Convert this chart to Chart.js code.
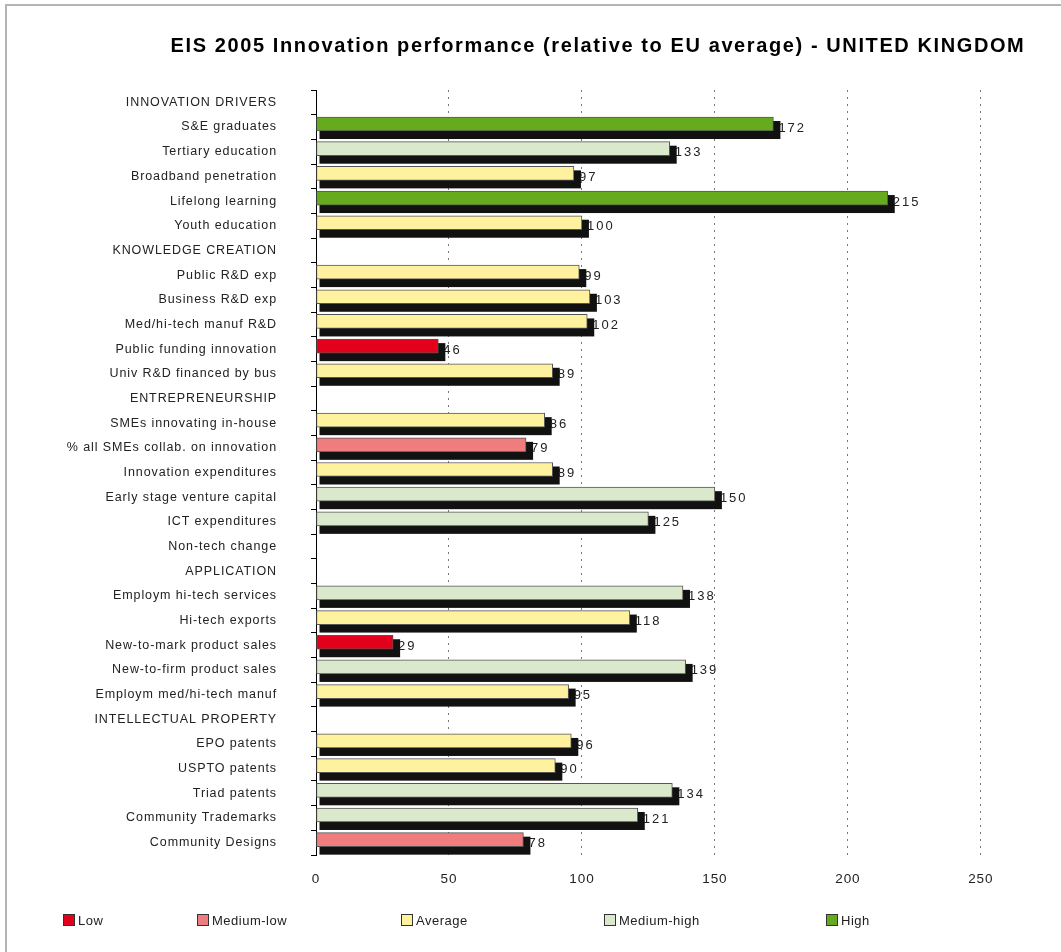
<!DOCTYPE html>
<html>
<head>
<meta charset="utf-8">
<title>EIS 2005 - United Kingdom</title>
<script src="https://cdn.jsdelivr.net/npm/chart.js@4"></script>
<style>
	html, body { margin: 0; padding: 0; background: #fff; }
	#wrap { position: relative; width: 1061px; height: 952px; overflow: hidden; }
	#frame {
		position: absolute; left: 5px; top: 4px; width: 1100px; height: 1000px;
		border-top: 2px solid #b4b4b4; border-left: 2px solid #b4b4b4;
		pointer-events: none;
	}
	canvas { position: absolute; left: 0; top: 0; }
</style>
</head>
<body>
<div id="wrap">
	<canvas id="eisChart" width="1061" height="952"></canvas>
	<div id="frame"></div>
</div>
<script>
const chartTitle = "EIS 2005 Innovation performance (relative to EU average) - UNITED KINGDOM";

// Indicators (section headers have no value)
const indicators = [
	"INNOVATION DRIVERS",
	"S&E graduates",
	"Tertiary education",
	"Broadband penetration",
	"Lifelong learning",
	"Youth education",
	"KNOWLEDGE CREATION",
	"Public R&D exp",
	"Business R&D exp",
	"Med/hi-tech manuf R&D",
	"Public funding innovation",
	"Univ R&D financed by bus",
	"ENTREPRENEURSHIP",
	"SMEs innovating in-house",
	"% all SMEs collab. on innovation",
	"Innovation expenditures",
	"Early stage venture capital",
	"ICT expenditures",
	"Non-tech change",
	"APPLICATION",
	"Employm hi-tech services",
	"Hi-tech exports",
	"New-to-mark product sales",
	"New-to-firm product sales",
	"Employm med/hi-tech manuf",
	"INTELLECTUAL PROPERTY",
	"EPO patents",
	"USPTO patents",
	"Triad patents",
	"Community Trademarks",
	"Community Designs",
];

// Index, EU average = 100
const scores = [
	null, 172, 133, 97, 215, 100,
	null, 99, 103, 102, 46, 89,
	null, 86, 79, 89, 150, 125, null,
	null, 138, 118, 29, 139, 95,
	null, 96, 90, 134, 121, 78,
];

// Performance group of each indicator
const groups = [
	null, "High", "Medium-high", "Average", "High", "Average",
	null, "Average", "Average", "Average", "Low", "Average",
	null, "Average", "Medium-low", "Average", "Medium-high", "Medium-high", null,
	null, "Medium-high", "Average", "Low", "Medium-high", "Average",
	null, "Average", "Average", "Medium-high", "Medium-high", "Medium-low",
];

const groupNames = ["Low", "Medium-low", "Average", "Medium-high", "High"];
const groupColors = ["#e2001a", "#ef7d7d", "#fff29e", "#dae8cb", "#66aa1e"];
const xTicks = [0, 50, 100, 150, 200, 250];

const FONT = "'Liberation Sans', Arial, sans-serif";
const BAR_LIFT = 3; // coloured bar sits a bit above the row centre

function colorOf(group) {
	const i = groupNames.indexOf(group);
	return i >= 0 ? groupColors[i] : "transparent";
}

// Value labels + black drop shadow behind each bar
const shadowPlugin = {
	id: "shadowBars",
	beforeDraw(chart) {
		// the axis labels are printed with a loose letter spacing
		chart.ctx.letterSpacing = "0.9px";
	},
	beforeDatasetsDraw(chart) {
		const ctx = chart.ctx;
		const meta = chart.getDatasetMeta(0);
		ctx.save();
		ctx.font = "13px " + FONT;
		ctx.letterSpacing = "2px";
		ctx.fillStyle = "#222";
		ctx.textAlign = "left";
		ctx.textBaseline = "middle";
		meta.data.forEach((bar, i) => {
			if (scores[i] == null) return;
			ctx.fillText(String(scores[i]), bar.x + 5, bar.y + 1);
		});
		ctx.fillStyle = "#111";
		meta.data.forEach((bar, i) => {
			if (scores[i] == null) return;
			const h = bar.height;
			const top = bar.y - h / 2 - BAR_LIFT + 4;
			const bottom = bar.y + h / 2 - BAR_LIFT + 8;
			ctx.fillRect(bar.base + 3, top, bar.x + 7 - (bar.base + 3), bottom - top);
		});
		ctx.restore();
		ctx.save();
		ctx.translate(0, -BAR_LIFT);
	},
	afterDatasetsDraw(chart) {
		chart.ctx.restore();
	},
	afterDraw(chart) {
		const ctx = chart.ctx;
		ctx.save();
		// title
		ctx.font = "bold 20px " + FONT;
		ctx.letterSpacing = "1.6px";
		ctx.fillStyle = "#000";
		ctx.textAlign = "center";
		ctx.textBaseline = "middle";
		ctx.fillText(chartTitle, 598, 46);
		// legend
		const legendX = [63, 197, 401, 604, 826];
		ctx.font = "13px " + FONT;
		ctx.letterSpacing = "0.5px";
		ctx.textAlign = "left";
		groupNames.forEach((name, i) => {
			const x = legendX[i];
			ctx.fillStyle = groupColors[i];
			ctx.fillRect(x, 914, 12, 12);
			ctx.strokeStyle = "#333";
			ctx.lineWidth = 1;
			ctx.strokeRect(x + 0.5, 914.5, 11, 11);
			ctx.fillStyle = "#222";
			ctx.fillText(name, x + 15, 921);
		});
		ctx.restore();
	},
};

const ctx = document.getElementById("eisChart").getContext("2d");

new Chart(ctx, {
	type: "bar",
	data: {
		labels: indicators,
		datasets: [
			{
				data: scores,
				backgroundColor: groups.map(colorOf),
				borderColor: "#555",
				borderWidth: 1,
				borderSkipped: false,
				barThickness: 14,
			},
		],
	},
	options: {
		indexAxis: "y",
		responsive: false,
		animation: false,
		events: [],
		layout: { padding: { top: 90, right: 27, bottom: 57, left: 0 } },
		plugins: {
			legend: { display: false },
			title: { display: false },
			tooltip: { enabled: false },
		},
		scales: {
			x: {
				min: 0,
				max: 270,
				afterBuildTicks: (scale) => {
					scale.ticks = xTicks.map((v) => ({ value: v }));
				},
				afterFit: (scale) => {
					scale.height = 40;
				},
				ticks: {
					padding: 16,
					color: "#222",
					font: { family: FONT, size: 13.5 },
				},
				grid: {
					drawTicks: false,
					color: (c) => (c.tick && c.tick.value === 0 ? "transparent" : "#777"),
					lineWidth: 1,
				},
				border: { display: false, dash: [2, 5] },
			},
			y: {
				afterFit: (scale) => {
					scale.width = 316;
				},
				ticks: {
					padding: 34,
					color: "#222",
					autoSkip: false,
					font: { family: FONT, size: 12.5 },
				},
				grid: {
					offset: true,
					drawOnChartArea: false,
					drawTicks: true,
					tickLength: 5,
					tickColor: "#000",
				},
				border: { display: true, color: "#000", width: 1 },
			},
		},
	},
	plugins: [shadowPlugin],
});
</script>
</body>
</html>
